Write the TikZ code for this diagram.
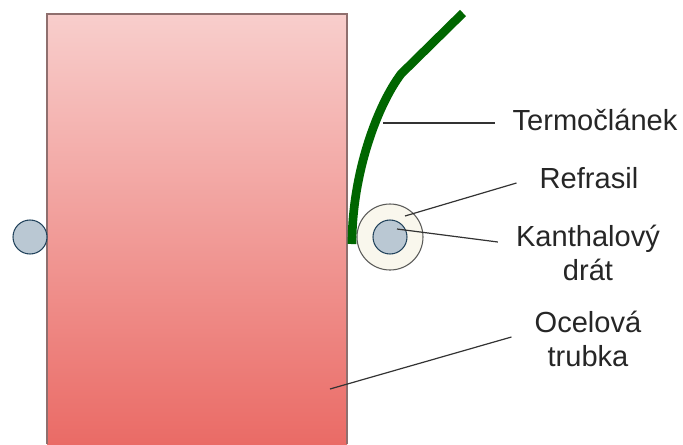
\documentclass[tikz,border=0pt]{standalone}
\usepackage{fontspec}
\setmainfont{Liberation Sans}
\usepackage{xcolor}
\usetikzlibrary{calc}
\definecolor{tubetop}{HTML}{F8CECC}
\definecolor{tubebot}{HTML}{EA6B66}
\definecolor{tubeline}{HTML}{8F6F6E}
\definecolor{wirefill}{HTML}{BAC8D3}
\definecolor{wireline}{HTML}{23445D}
\definecolor{woolfill}{HTML}{F9F7ED}
\definecolor{woolline}{HTML}{5A5A58}
\definecolor{tcgreen}{HTML}{006600}
\definecolor{leader}{HTML}{333333}

\begin{document}
\begin{tikzpicture}[
  x=.75pt,y=-.75pt,
  wire/.style={circle,draw=wireline,fill=wirefill,line width=.8pt,minimum size=25.5pt,inner sep=0pt},
  wool/.style={circle,draw=woolline,fill=woolfill,line width=.8pt,minimum size=49.5pt,inner sep=0pt},
  couple/.style={line width=6.5pt,tcgreen,line join=round},
  lead/.style={leader,line width=.9pt},
  lab/.style={font=\fontsize{21.8}{25.5}\selectfont,align=center,inner sep=0pt,text=black!85}
]
\useasboundingbox (0,0) rectangle (683,444);
% tube
\fill[top color=tubetop,bottom color=tubebot] (47,14) rectangle (347,444);
\draw[tubeline,line width=.8pt] (47,444)--(47,14)--(347,14)--(347,444);
% wires
\node[wire] (wireleft) at (30,237) {};
\node[wool] (refrasil) at (390,237) {};
\node[wire] (wireright) at (390,237) {};
% thermocouple
\draw[couple] (352,244) .. controls (352,174) and (377,106) .. (401,74) -- (463,13);
% labels
\node[lab] (termo) at (595,120) {Termočlánek};
\node[lab] (refr) at (589,178) {Refrasil};
\node[lab] (kanthal) at (588,253) {Kanthalový\\drát};
\node[lab] (ocel) at (588,339) {Ocelová\\trubka};
% leaders
\coordinate (ptermo) at (383,123);
\coordinate (prefr) at (405,216);
\coordinate (pkanthal) at (397,229);
\coordinate (pocel) at (330,389);
\draw[lead] (ptermo)--($(termo.west)+(-17,3)$);
\draw[lead] (prefr)--($(refr.west)+(-23,5)$);
\draw[lead] (pkanthal)--($(kanthal.west)+(-18,-11)$);
\draw[lead] (pocel)--($(ocel.west)+(-23,-2)$);
\end{tikzpicture}
\end{document}
